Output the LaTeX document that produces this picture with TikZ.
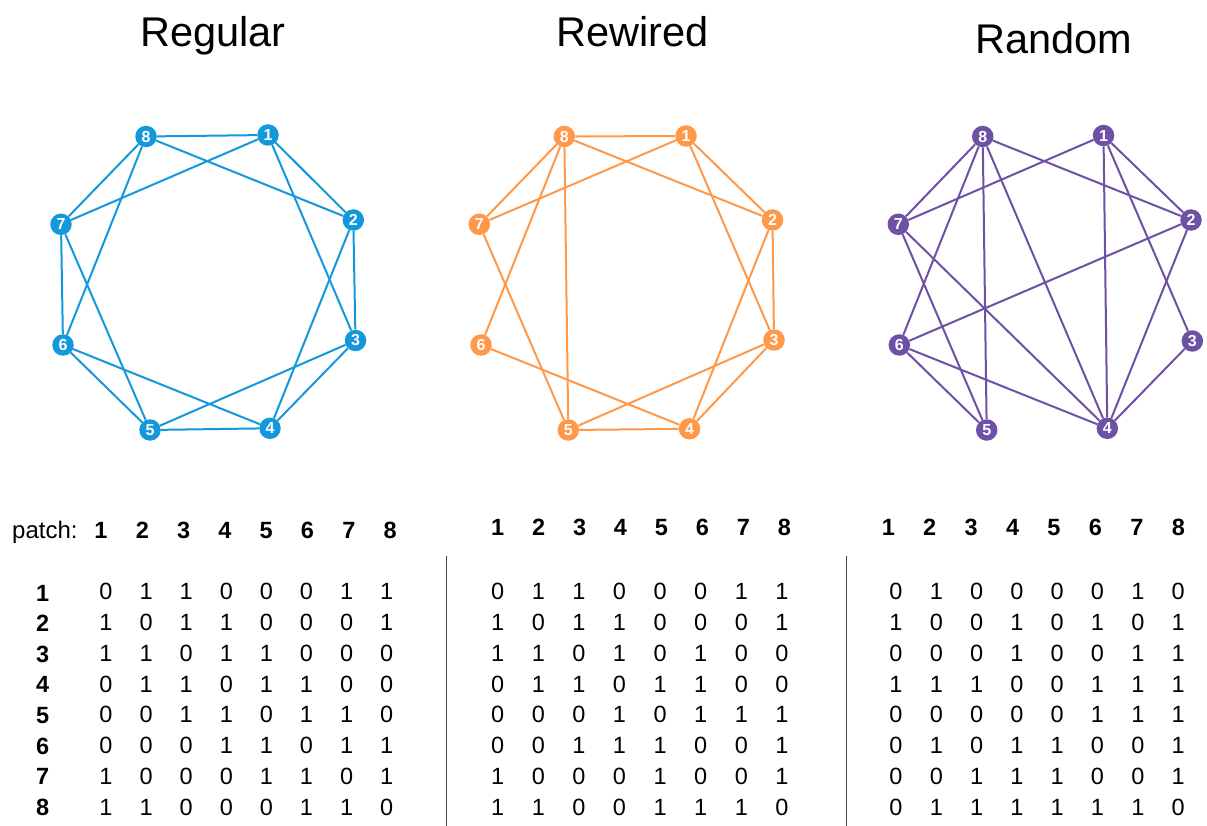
\documentclass[tikz,border=0pt]{standalone}
\usepackage{fontspec}
\setmainfont{Liberation Sans}
\definecolor{cblue}{RGB}{20,152,220}
\definecolor{corange}{RGB}{255,152,72}
\definecolor{cpurple}{RGB}{110,80,165}
\definecolor{sepgray}{RGB}{70,70,70}
\pgfdeclarelayer{bg}
\pgfsetlayers{bg,main}
\begin{document}
\begin{tikzpicture}[x=1pt,y=-1pt,
  vtx/.style={circle,fill=#1,inner sep=0pt,minimum size=21.5pt,text=white,font=\fontsize{16}{16}\selectfont\bfseries},
  edge/.style={draw=#1,line width=2pt},
  title/.style={anchor=base,inner sep=0pt,font=\fontsize{41.5}{42}\selectfont},
  val/.style={anchor=base,inner sep=0pt,font=\fontsize{23.5}{24}\selectfont},
  hdr/.style={anchor=base,inner sep=0pt,font=\fontsize{23.5}{24}\selectfont\bfseries},
  sep/.style={draw=sepgray,line width=1pt},
]
\useasboundingbox (0,0) rectangle (1207,826);

% titles
\node[title] (tReg) at (213,47) {Regular};
\node[title] (tRew) at (632.5,46.7) {Rewired};
\node[title] (tRan) at (1053.7,54) {Random};

% ---------- Regular ----------
\node[vtx=cblue] (a8) at (146,136.5) {8};
\node[vtx=cblue] (a1) at (268,135) {1};
\node[vtx=cblue] (a2) at (353.3,220) {2};
\node[vtx=cblue] (a3) at (355.5,340.5) {3};
\node[vtx=cblue] (a4) at (270,428.3) {4};
\node[vtx=cblue] (a5) at (150,430) {5};
\node[vtx=cblue] (a6) at (63,345) {6};
\node[vtx=cblue] (a7) at (61,224.3) {7};
\begin{pgfonlayer}{bg}
\foreach \u/\w in {8/1,8/7,8/6,8/2,1/7,1/2,1/3,2/3,2/4,3/4,3/5,4/5,4/6,5/6,5/7,6/7}
  \draw[edge=cblue] (a\u) -- (a\w);
\end{pgfonlayer}

% ---------- Rewired ----------
\node[vtx=corange] (b8) at (564.3,136.5) {8};
\node[vtx=corange] (b1) at (686,136) {1};
\node[vtx=corange] (b2) at (772.5,220) {2};
\node[vtx=corange] (b3) at (774,340) {3};
\node[vtx=corange] (b4) at (689.5,428.8) {4};
\node[vtx=corange] (b5) at (568.3,430) {5};
\node[vtx=corange] (b6) at (481,345) {6};
\node[vtx=corange] (b7) at (479.3,224.3) {7};
\begin{pgfonlayer}{bg}
\foreach \u/\w in {8/1,8/7,8/6,8/5,8/2,1/7,1/2,1/3,2/3,2/4,3/4,3/5,4/5,4/6,5/7}
  \draw[edge=corange] (b\u) -- (b\w);
\end{pgfonlayer}

% ---------- Random ----------
\node[vtx=cpurple] (c8) at (982.7,136.5) {8};
\node[vtx=cpurple] (c1) at (1103.5,135.5) {1};
\node[vtx=cpurple] (c2) at (1191,220) {2};
\node[vtx=cpurple] (c3) at (1192.3,341) {3};
\node[vtx=cpurple] (c4) at (1107.3,428.3) {4};
\node[vtx=cpurple] (c5) at (986.7,430) {5};
\node[vtx=cpurple] (c6) at (899.3,345) {6};
\node[vtx=cpurple] (c7) at (898.3,224.3) {7};
\begin{pgfonlayer}{bg}
\foreach \u/\w in {8/7,8/6,8/5,8/4,8/2,1/7,1/2,1/4,1/3,2/6,2/4,3/4,7/5,7/4,6/5,6/4}
  \draw[edge=cpurple] (c\u) -- (c\w);
\end{pgfonlayer}

% ---------- matrices ----------
\node[val,anchor=base west,font=\fontsize{24}{24}\selectfont] (patch) at (12,538.3) {patch:};
\foreach \c in {1,...,8} {
  \node[hdr] (hL\c) at ({101+41.3*(\c-1)},538.3) {\c};
  \node[hdr] (hM\c) at ({497.7+40.94*(\c-1)},535) {\c};
  \node[hdr] (hR\c) at ({888.3+41.43*(\c-1)},535) {\c};
  \node[hdr] (rL\c) at (42.7,{601+30.6*(\c-1)}) {\c};
}

\foreach \row [count=\r] in {{0,1,1,0,0,0,1,1},{1,0,1,1,0,0,0,1},{1,1,0,1,1,0,0,0},{0,1,1,0,1,1,0,0},{0,0,1,1,0,1,1,0},{0,0,0,1,1,0,1,1},{1,0,0,0,1,1,0,1},{1,1,0,0,0,1,1,0}} {
  \foreach \v [count=\c] in \row
    \node[val] (mL\r-\c) at ({106+40.1*(\c-1)},{599.3+30.9*(\r-1)}) {\v};
}
\foreach \row [count=\r] in {{0,1,1,0,0,0,1,1},{1,0,1,1,0,0,0,1},{1,1,0,1,0,1,0,0},{0,1,1,0,1,1,0,0},{0,0,0,1,0,1,1,1},{0,0,1,1,1,0,0,1},{1,0,0,0,1,0,0,1},{1,1,0,0,1,1,1,0}} {
  \foreach \v [count=\c] in \row
    \node[val] (mM\r-\c) at ({497.7+40.6*(\c-1)},{599.3+30.9*(\r-1)}) {\v};
}
\foreach \row [count=\r] in {{0,1,0,0,0,0,1,0},{1,0,0,1,0,1,0,1},{0,0,0,1,0,0,1,1},{1,1,1,0,0,1,1,1},{0,0,0,0,0,1,1,1},{0,1,0,1,1,0,0,1},{0,0,1,1,1,0,0,1},{0,1,1,1,1,1,1,0}} {
  \foreach \v [count=\c] in \row
    \node[val] (mR\r-\c) at ({896+40.3*(\c-1)},{599.3+30.9*(\r-1)}) {\v};
}

% separators
\coordinate (s1a) at (446,556); \coordinate (s1b) at (446,826);
\coordinate (s2a) at (846,556); \coordinate (s2b) at (846,826);
\draw[sep] (s1a) -- (s1b);
\draw[sep] (s2a) -- (s2b);
\end{tikzpicture}
\end{document}
